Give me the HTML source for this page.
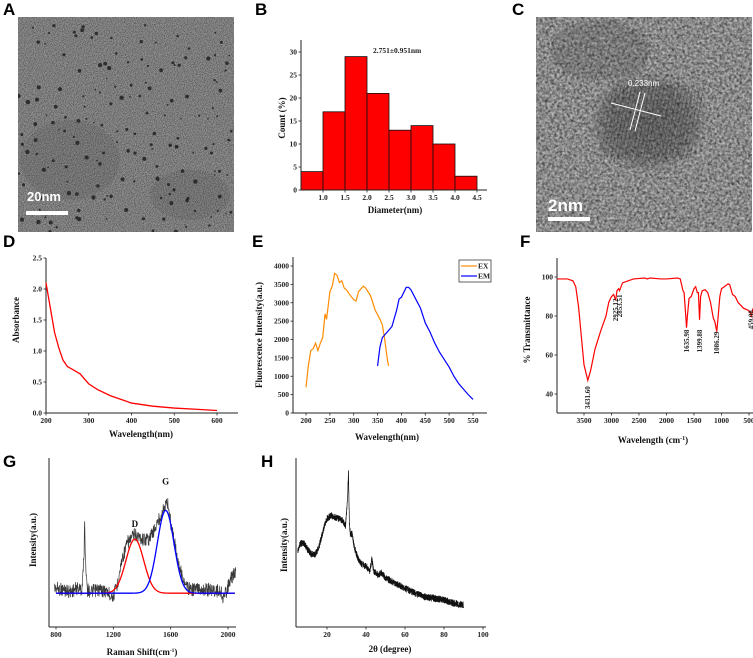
<!DOCTYPE html>
<html><head><meta charset="utf-8">
<style>
html,body{margin:0;padding:0;background:#fff;}
body{width:753px;height:658px;overflow:hidden;position:relative;font-family:"Liberation Serif",serif;}
svg{position:absolute;left:0;top:0;}
.pl{font-family:"Liberation Sans",sans-serif;font-weight:bold;font-size:17px;fill:#000;}
.tk{font-size:7.5px;font-weight:bold;fill:#222;}
.at{font-size:9px;font-weight:bold;fill:#111;}
</style></head>
<body>
<svg id="fig" width="753" height="658" viewBox="0 0 753 658">
<defs>
<filter id="grainA" x="0" y="0" width="100%" height="100%">
<feTurbulence type="fractalNoise" baseFrequency="1.1" numOctaves="2" seed="3"/>
<feColorMatrix type="matrix" values="0 0 0 0 0  0 0 0 0 0  0 0 0 0 0  1.1 0 0 0 -0.4"/>
<feComposite in2="SourceGraphic" operator="in"/>
</filter>
<filter id="grainC" x="0" y="0" width="100%" height="100%">
<feTurbulence type="fractalNoise" baseFrequency="0.35" numOctaves="2" seed="7"/>
<feColorMatrix type="matrix" values="0 0 0 0 0  0 0 0 0 0  0 0 0 0 0  1.2 0 0 0 -0.45"/>
<feComposite in2="SourceGraphic" operator="in"/>
</filter>
<filter id="grainC2" x="0" y="0" width="100%" height="100%">
<feTurbulence type="fractalNoise" baseFrequency="0.4" numOctaves="2" seed="19"/>
<feColorMatrix type="matrix" values="0 0 0 0 1  0 0 0 0 1  0 0 0 0 1  1.2 0 0 0 -0.5"/>
<feComposite in2="SourceGraphic" operator="in"/>
</filter>
<radialGradient id="partC" cx="0.5" cy="0.5" r="0.5">
<stop offset="0" stop-color="#222" stop-opacity="0.4"/>
<stop offset="0.7" stop-color="#222" stop-opacity="0.28"/>
<stop offset="1" stop-color="#222" stop-opacity="0"/>
</radialGradient>
<clipPath id="clipA"><rect x="18" y="17" width="216" height="215"/></clipPath>
<clipPath id="clipC"><rect x="536" y="17" width="216" height="215"/></clipPath>
</defs>

<!-- Panel A TEM -->
<text class="pl" x="3" y="15">A</text>
<g clip-path="url(#clipA)">
<rect x="18" y="17" width="216" height="215" fill="#929292"/>
<rect x="18" y="17" width="216" height="215" fill="#000" filter="url(#grainA)"/>
<g id="dotsA" fill="#1a1a1a"></g>
</g>
<rect x="26" y="211" width="42" height="4" fill="#fff"/>
<text x="27" y="201" fill="#fff" font-family="Liberation Sans,sans-serif" font-weight="bold" font-size="13">20nm</text>

<!-- Panel C HRTEM -->
<text class="pl" x="512" y="15">C</text>
<g clip-path="url(#clipC)">
<rect x="536" y="17" width="216" height="215" fill="#8e8e8e"/>
<rect x="536" y="17" width="216" height="215" fill="#000" filter="url(#grainC)"/>
<rect x="536" y="17" width="216" height="215" fill="#fff" filter="url(#grainC2)"/>
<ellipse cx="648" cy="122" rx="60" ry="52" fill="url(#partC)"/>
<ellipse cx="600" cy="50" rx="50" ry="30" fill="#222" opacity="0.15"/>
<g id="fringes" stroke="#222" stroke-width="0.8" opacity="0.3"></g>
</g>
<g stroke="#fff" stroke-width="1">
<line x1="611" y1="103" x2="661" y2="116"/>
<line x1="640" y1="92" x2="630" y2="130"/>
<line x1="645" y1="93" x2="635" y2="131"/>
</g>
<text x="628" y="86" fill="#fff" font-family="Liberation Sans,sans-serif" font-size="8">0.233nm</text>
<rect x="548" y="217" width="42" height="4" fill="#fff"/>
<text x="548" y="211" fill="#fff" font-family="Liberation Sans,sans-serif" font-weight="bold" font-size="17">2nm</text>

<text class="pl" x="255" y="15">B</text>
<text class="pl" x="3" y="247">D</text>
<text class="pl" x="252" y="247">E</text>
<text class="pl" x="520" y="247">F</text>
<text class="pl" x="3" y="467">G</text>
<text class="pl" x="261" y="467">H</text>
<g id="charts"></g>
</svg>
<script>
// ---------- Panel B data ----------
const bBinStarts = [0.5,1.0,1.5,2.0,2.5,3.0,3.5,4.0];
const bCounts = [4,17,29,21,13,14,10,3];
const bXTicks = [1.0,1.5,2.0,2.5,3.0,3.5,4.0,4.5];
const bYTicks = [0,5,10,15,20,25,30];
// ---------- Panel D data ----------
const dWave = [200,205,210,220,230,240,250,260,270,280,290,300,320,350,400,450,500,550,600];
const dAbs = [2.1,1.9,1.7,1.3,1.05,0.85,0.75,0.71,0.67,0.63,0.55,0.47,0.38,0.28,0.16,0.11,0.08,0.06,0.04];
const dXTicks = [200,300,400,500,600];
const dYTicks = [0.0,0.5,1.0,1.5,2.0,2.5];
// ---------- Panel E data ----------
const exWave = [200,205,210,215,220,225,230,235,240,243,245,250,255,260,265,270,275,280,285,290,300,305,310,320,325,335,345,355,360,365,370,373];
const exInt = [700,1300,1700,1750,1900,1700,1900,2050,2700,2550,2750,3300,3450,3800,3750,3550,3600,3400,3350,3250,3080,3050,3300,3450,3400,3200,2800,2550,2400,2000,1500,1280];
const emWave = [350,355,360,370,380,390,395,400,410,415,420,430,440,450,460,470,480,490,500,510,520,530,540,550];
const emInt = [1280,1800,2050,2200,2350,2800,3100,3150,3420,3420,3350,3100,2850,2450,2200,1900,1650,1450,1250,1000,800,650,500,370];
const eXTicks = [200,250,300,350,400,450,500,550];
const eYTicks = [0,500,1000,1500,2000,2500,3000,3500,4000];
// ---------- Panel F data ----------
const fWn = [3990,3800,3700,3650,3600,3550,3500,3431,3380,3300,3200,3100,3050,3000,2960,2925,2900,2870,2853,2800,2600,2400,2350,2300,2100,2000,1800,1750,1700,1680,1650,1636,1620,1590,1550,1500,1470,1440,1420,1399,1380,1350,1300,1250,1200,1150,1120,1086,1060,1030,1000,950,880,850,800,750,700,600,520,480,459,440,428];
const fT = [99,99,98,95,85,70,55,47,52,63,72,80,87,90,91,88,93,94,93,97,99,99.5,99,99.5,99,99,99.5,99,93,92,80,74,80,89,90,94,95,92,92,78,90,93,93.5,92,87,79,77,72,80,90,94,95,96.5,96,91,90,87,84,83,82,80,82,84];
const fPeakLabels = ["3431.60","2925.12","2853.51","1635.98","1399.88","1086.29","459.08"];
const fPeakWn = [3431.6,2925.12,2853.51,1635.98,1399.88,1086.29,459.08];
const fPeakLabelT = [44,89,91,73,73,72,83];
const fXTicks = [3500,3000,2500,2000,1500,1000,500];
const fYTicks = [40,60,80,100];
// ---------- Panel G data ----------
const gShift = [800,850,900,950,980,995,1000,1005,1020,1050,1100,1150,1200,1230,1260,1300,1350,1400,1450,1500,1540,1565,1580,1600,1650,1700,1750,1800,1850,1900,1950,1970,2000,2030,2050];
const gInt = [23,22,21,23,22,40,66,40,22,21,22,21,18,26,40,50,55,52,52,60,68,72,74,62,40,24,22,23,22,22,21,17,24,30,32];
const gFitCenters = [1350,1565];
const gFitHeights = [32,49];
const gFitWidths = [62,58];
const gBaseline = 20;
const gXTicks = [800,1200,1600,2000];
// ---------- Panel H data ----------
const hTheta = [5,6,8,10,12,14,16,18,20,22,24,26,28,29.5,30.5,31,31.5,32,33,34,36,38,40,42,43,44,46,48,50,55,60,65,70,75,80,85,90];
const hInt = [45,49,50,46,43,43,48,57,64,66,65,64,63,60,75,91,60,55,55,47,40,37,36,33,40,33,31,32,29,26,23,20,18,17,16,14,13];
const hXTicks = [20,40,60,80,100];

const NS='http://www.w3.org/2000/svg';
const root=document.getElementById('charts');
function el(tag,attrs,parent){const e=document.createElementNS(NS,tag);for(const k in attrs)e.setAttribute(k,attrs[k]);(parent||root).appendChild(e);return e;}
function lin(d0,d1,r0,r1){return v=>r0+(v-d0)/(d1-d0)*(r1-r0);}
function interp(xs,ys,x){for(let i=0;i<xs.length-1;i++){const a=xs[i],b=xs[i+1];if((x>=a&&x<=b)||(x<=a&&x>=b)){const t=(x-a)/(b-a);return ys[i]+t*(ys[i+1]-ys[i]);}}return ys[ys.length-1];}
function hash(i){const s=Math.sin(i*12.9898+78.233)*43758.5453;return s-Math.floor(s);}
function axes(g,x0,y0,x1,y1){
  el('line',{x1:x0,y1:y0,x2:x1,y2:y0,stroke:'#222','stroke-width':1},g);
  el('line',{x1:x0,y1:y0,x2:x0,y2:y1,stroke:'#222','stroke-width':1},g);
}
function xtick(g,x,y,label){el('line',{x1:x,y1:y,x2:x,y2:y+2.5,stroke:'#222','stroke-width':0.8},g);const t=el('text',{x:x,y:y+10,'text-anchor':'middle',class:'tk'},g);t.textContent=label;return t;}
function ytick(g,x,y,label){el('line',{x1:x-2.5,y1:y,x2:x,y2:y,stroke:'#222','stroke-width':0.8},g);const t=el('text',{x:x-4,y:y+2.5,'text-anchor':'end',class:'tk'},g);t.textContent=label;return t;}
function title(g,x,y,txt,rot){const t=el('text',{x:x,y:y,'text-anchor':'middle',class:'at'},g);if(rot)t.setAttribute('transform','rotate(-90 '+x+' '+y+')');t.textContent=txt;return t;}
function pathFrom(xs,ys,sx,sy){return xs.map((v,i)=>(i?'L':'M')+sx(v).toFixed(2)+' '+sy(ys[i]).toFixed(2)).join(' ');}

// ===== Panel B =====
{
const g=el('g',{});


const sx=lin(0.5,4.5,301,477), sy=lin(0,30,190,52);
bBinStarts.forEach((b,i)=>{
  const r=el('rect',{x:sx(b),y:sy(bCounts[i]),width:sx(b+0.5)-sx(b),height:sy(0)-sy(bCounts[i]),fill:'#ff0000',stroke:'#111','stroke-width':0.8},g);
  
  
});
axes(g,301,190,487,40);
bXTicks.forEach(v=>xtick(g,sx(v),190,v.toFixed(1)));
bYTicks.forEach(v=>ytick(g,301,sy(v),String(v)));
const xt=title(g,395,213,'Diameter(nm)');


const yt=title(g,285,118,'Count (%)',true);


const st=el('text',{x:373,y:53,class:'tk'},g);st.textContent='2.751±0.951nm';


}
// ===== Panel D =====
{
const g=el('g',{});


const sx=lin(200,600,46,217), sy=lin(0,2.5,413,258);
axes(g,46,413,238,258);
dXTicks.forEach(v=>xtick(g,sx(v),413,String(v)));
dYTicks.forEach(v=>ytick(g,46,sy(v),v.toFixed(1)));
const p=el('path',{d:pathFrom(dWave,dAbs,sx,sy),fill:'none',stroke:'#ff0000','stroke-width':1.3},g);


const xt=title(g,141,437,'Wavelength(nm)');


const yt=title(g,19,320,'Absorbance',true);


}
// ===== Panel E =====
{
const g=el('g',{});


const sx=lin(200,550,306,473), sy=lin(0,4000,413,266);
axes(g,293,413,487,257);
eXTicks.forEach(v=>xtick(g,sx(v),413,String(v)));
eYTicks.forEach(v=>ytick(g,293,sy(v),String(v)));
const p1=el('path',{d:pathFrom(exWave,exInt,sx,sy),fill:'none',stroke:'#ff8c00','stroke-width':1.2},g);


const p2=el('path',{d:pathFrom(emWave,emInt,sx,sy),fill:'none',stroke:'#0000ff','stroke-width':1.2},g);


const lg=el('g',{},g);


el('rect',{x:459,y:260,width:32,height:22,fill:'#fff',stroke:'#222','stroke-width':0.7},lg);
el('line',{x1:461,y1:266,x2:477,y2:266,stroke:'#ff8c00','stroke-width':1.2},lg);
el('line',{x1:461,y1:276,x2:477,y2:276,stroke:'#0000ff','stroke-width':1.2},lg);
const t1=el('text',{x:478,y:268.5,class:'tk'},lg);t1.textContent='EX';


const t2=el('text',{x:478,y:278.5,class:'tk'},lg);t2.textContent='EM';


const xt=title(g,387,440,'Wavelength(nm)');


const yt=title(g,262,335,'Fluorescence Intensity(a.u.)',true);


}
// ===== Panel F =====
{
const g=el('g',{});


const sx=lin(3500,500,584,749), sy=lin(40,100,394,277);
axes(g,557,413,753,258);
fXTicks.forEach(v=>xtick(g,sx(v),413,String(v)));
fYTicks.forEach(v=>ytick(g,557,sy(v),String(v)));
const p=el('path',{d:pathFrom(fWn,fT,sx,sy),fill:'none',stroke:'#ff0000','stroke-width':1.2},g);


fPeakLabels.forEach((lab,i)=>{
  const x=sx(fPeakWn[i])+2.5, y=sy(fPeakLabelT[i]);
  const t=el('text',{x:x,y:y,'text-anchor':'end','font-size':'7px','font-weight':'bold',fill:'#222',transform:'rotate(-90 '+x+' '+y+')'},g);
  t.textContent=lab;
  
  
});
const xt=el('text',{x:653,y:443,'text-anchor':'middle',class:'at'},g);
xt.innerHTML='Wavelength (cm<tspan font-size="6" dy="-3">-1</tspan><tspan dy="3">)</tspan>';


const yt=title(g,530,330,'% Transmittance',true);


}
// ===== Panel G =====
{
const g=el('g',{});


const sx=lin(800,2000,56,228), sy=lin(0,100,627,458);
axes(g,49,627,236,458);
gXTicks.forEach(v=>xtick(g,sx(v),627,String(v)));
let d='';let k=0;
for(let x=790;x<=2054;x+=2){const v=interp(gShift,gInt,Math.max(800,Math.min(2050,x)));const j=(hash(k)-0.5)*14;d+=(k?'L':'M')+sx(x).toFixed(2)+' '+(sy(v)+j).toFixed(2);k++;}
const p=el('path',{d:d,fill:'none',stroke:'#3a3a3a','stroke-width':0.7},g);


['#ff0000','#0000ff'].forEach((c,i)=>{
  let dd='';let kk=0;
  for(let x=800;x<=2050;x+=4){const v=gBaseline+gFitHeights[i]*Math.exp(-Math.pow((x-gFitCenters[i])/gFitWidths[i],2)/2);dd+=(kk?'L':'M')+sx(x).toFixed(2)+' '+sy(v).toFixed(2);kk++;}
  const f=el('path',{d:dd,fill:'none',stroke:c,'stroke-width':1.3},g);
  
  
});
const tD=el('text',{x:sx(gFitCenters[0]),y:sy(gBaseline+gFitHeights[0])-12,'text-anchor':'middle',class:'at'},g);tD.textContent='D';


const tG=el('text',{x:sx(gFitCenters[1]),y:sy(gBaseline+gFitHeights[1])-26,'text-anchor':'middle',class:'at'},g);tG.textContent='G';


const xt=el('text',{x:142,y:655,'text-anchor':'middle',class:'at','font-size':'8px'},g);
xt.innerHTML='Raman Shift(cm<tspan font-size="5.5" dy="-3">-1</tspan><tspan dy="3">)</tspan>';


const yt=title(g,36,540,'Intensity(a.u.)',true);


}
// ===== Panel H =====
{
const g=el('g',{});


const sx=lin(20,100,327,483), sy=lin(0,100,627,458);
axes(g,296,627,486,458);
hXTicks.forEach(v=>xtick(g,sx(v),627,String(v)));
let d='';let k=0;
for(let x=5;x<=90;x+=0.05){const v=interp(hTheta,hInt,x);const j=(hash(k+500)-0.5)*7;d+=(k?'L':'M')+sx(x).toFixed(2)+' '+(sy(v)+j).toFixed(2);k++;}
const p=el('path',{d:d,fill:'none',stroke:'#111','stroke-width':0.7},g);


const xt=el('text',{x:390,y:652,'text-anchor':'middle',class:'at','font-size':'8px'},g);xt.textContent='2θ (degree)';


const yt=title(g,287,545,'Intensity(a.u.)',true);


}
// ===== decorative TEM dots & fringes =====
{
const dg=document.getElementById('dotsA');
for(let i=0;i<170;i++){
  const x=18+hash(i*3+1)*216, y=17+hash(i*3+2)*215, r=0.7+hash(i*3+3)*1.5;
  el('circle',{cx:x.toFixed(1),cy:y.toFixed(1),r:r.toFixed(1),opacity:0.8},dg);
}
el('ellipse',{cx:70,cy:160,rx:50,ry:40,fill:'#333',opacity:0.12},dg);
el('ellipse',{cx:190,cy:195,rx:40,ry:25,fill:'#333',opacity:0.12},dg);
const fg=document.getElementById('fringes');
for(let i=0;i<26;i++){const x=608+i*3.6;el('line',{x1:x+6,y1:85,x2:x-8,y2:158},fg);}
}
</script>
</body></html>
